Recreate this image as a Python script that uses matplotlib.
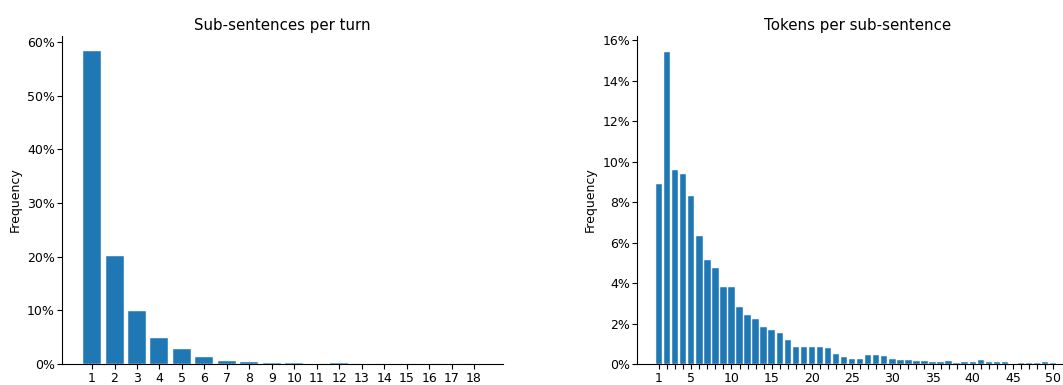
import numpy as np
import matplotlib
matplotlib.use("Agg")
import matplotlib.pyplot as plt
from matplotlib.ticker import PercentFormatter

# sub-sentences per turn
turn_counts = list(range(1, 19))
turn_freq = [0.583, 0.201, 0.099, 0.048, 0.028, 0.014, 0.006, 0.0038, 0.0022, 0.0022,
             0.0005, 0.0012, 0.0003, 0.0002, 0.0002, 0.0001, 0.0001, 0.0001]

# tokens per sub-sentence
token_counts = list(range(1, 51))
token_freq = [8.87, 15.42, 9.58, 9.37, 8.31, 6.30, 5.15, 4.73, 3.79, 3.81,
              2.84, 2.41, 2.23, 1.85, 1.68, 1.52, 1.17, 0.86, 0.86, 0.86,
              0.86, 0.81, 0.49, 0.35, 0.25, 0.26, 0.46, 0.43, 0.38, 0.26,
              0.20, 0.20, 0.15, 0.13, 0.09, 0.08, 0.13, 0.06, 0.09, 0.09,
              0.18, 0.08, 0.08, 0.08, 0.0, 0.03, 0.03, 0.06, 0.08, 0.06]
token_freq = [v / 100 for v in token_freq]

plt.rcParams['font.size'] = 9
plt.rcParams['xtick.major.pad'] = 2
plt.rcParams['ytick.major.pad'] = 1.5

fig = plt.figure(figsize=(10.63, 3.85), dpi=100)
ax1 = fig.add_axes([0.0583, 0.0545, 0.4149, 0.852])
ax2 = fig.add_axes([0.5993, 0.0545, 0.4149, 0.852])

ax1.bar(turn_counts, turn_freq, width=0.8, color='#1f77b4', edgecolor='#e8f0f8', linewidth=0.35)
ax1.set_xlim(-0.34, 19.29)
ax1.set_ylim(0, 0.611)
ax1.set_xticks(turn_counts)
ax1.set_yticks(np.arange(0, 0.61, 0.1))
ax1.yaxis.set_major_formatter(PercentFormatter(1, decimals=0))
ax1.set_ylabel('Frequency')
ax1.set_title('Sub-sentences per turn', fontsize=10.8, pad=4.5)

ax2.bar(token_counts, token_freq, width=0.8, color='#1f77b4', edgecolor='#e8f0f8', linewidth=0.35)
ax2.set_xlim(-1.74, 53.1)
ax2.set_ylim(0, 0.162)
ax2.set_xticks(token_counts)
ax2.set_xticklabels([str(t) if (t == 1 or t % 5 == 0) else '' for t in token_counts])
ax2.set_yticks(np.arange(0, 0.161, 0.02))
ax2.yaxis.set_major_formatter(PercentFormatter(1, decimals=0))
ax2.set_ylabel('Frequency')
ax2.set_title('Tokens per sub-sentence', fontsize=10.8, pad=4.5)

for ax in (ax1, ax2):
    ax.spines['top'].set_visible(False)
    ax.spines['right'].set_visible(False)

fig.savefig('out.png', dpi=100)
